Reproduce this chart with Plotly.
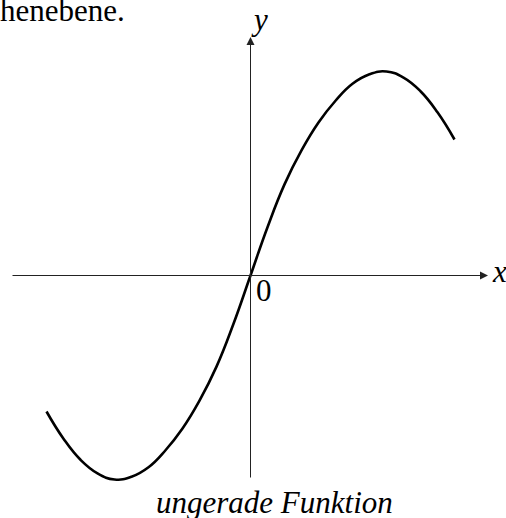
import plotly.graph_objects as go

# Data (units: 1 unit ~ 68 px)
x_vals = [-3.0, -2.75, -2.5, -2.25, -2.0, -1.75, -1.5, -1.25, -1.0, -0.75, -0.5, -0.25, 0.0,
          0.25, 0.5, 0.75, 1.0, 1.25, 1.5, 1.75, 2.0, 2.25, 2.5, 2.75, 3.0]
y_vals = [-2.0, -2.40, -2.71, -2.91, -3.0, -2.96, -2.82, -2.57, -2.25, -1.84, -1.34, -0.71, 0.0,
          0.71, 1.34, 1.84, 2.25, 2.57, 2.82, 2.96, 3.0, 2.91, 2.71, 2.40, 2.0]

caption = "ungerade Funktion"
top_text = "henebene."

W, H = 506, 518
OX, OY, U = 250.5, 275.5, 68.0

def ux(px):
    return (px - OX) / U

def uy(py):
    return (OY - py) / U

def px_(px):
    return px / W

def py_(py):
    return 1 - py / H

fig = go.Figure()
fig.add_trace(go.Scatter(x=x_vals, y=y_vals, mode="lines",
                         line=dict(color="black", width=2.6, shape="spline", smoothing=1.3),
                         hoverinfo="skip", showlegend=False))

axis_col = "#222222"
# x axis
fig.add_annotation(x=ux(488), y=0, ax=ux(11), ay=0, xref="x", yref="y", axref="x", ayref="y",
                   text="", showarrow=True, arrowhead=2, arrowsize=1.6, arrowwidth=1, arrowcolor=axis_col)
# y axis
fig.add_annotation(x=0, y=uy(37), ax=0, ay=uy(479), xref="x", yref="y", axref="x", ayref="y",
                   text="", showarrow=True, arrowhead=2, arrowsize=1.6, arrowwidth=1, arrowcolor=axis_col)

serif = "Liberation Serif, Times New Roman, serif"
fs = 31
def label(txt, x, y, xanchor="center"):
    fig.add_annotation(x=px_(x), y=py_(y), text=txt, showarrow=False, xref="paper", yref="paper",
                       xanchor=xanchor, yanchor="middle",
                       font=dict(family=serif, size=fs, color="black"))

label("<i>x</i>", 499, 271)
label("<i>y</i>", 259, 19)
label("0", 254, 290, "left")
label("<i>" + caption + "</i>", 274, 502)
label(top_text, -2, 11, "left")

fig.update_xaxes(range=[ux(0), ux(W)], visible=False, fixedrange=True)
fig.update_yaxes(range=[uy(H), uy(0)], visible=False, fixedrange=True)
fig.update_layout(width=W, height=H, margin=dict(l=0, r=0, t=0, b=0),
                  paper_bgcolor="white", plot_bgcolor="white", showlegend=False)

fig.write_html("out.html", config={"displayModeBar": False, "staticPlot": True},
               post_script="document.body.style.margin='0';document.body.style.overflow='hidden';")
